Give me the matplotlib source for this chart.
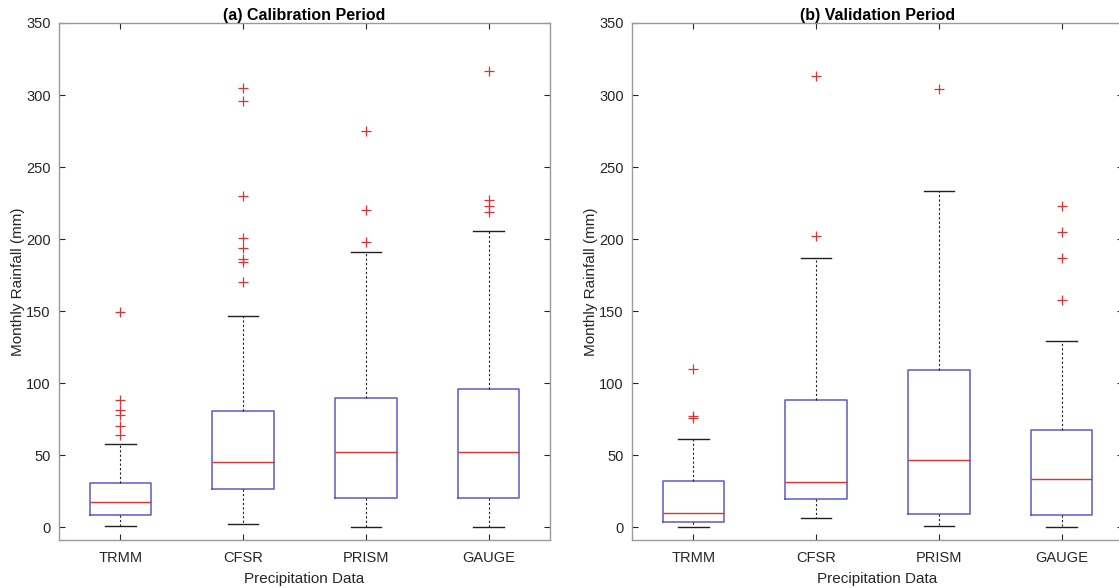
import numpy as np
import matplotlib
matplotlib.use('Agg')
from matplotlib import pyplot

## values (monthly rainfall, mm)
products = ['TRMM', 'CFSR', 'PRISM', 'GAUGE']

# (a) calibration period
cal_whislo = [0.7, 2.3, 0.0, 0.0]
cal_q1 = [8.1, 26.2, 20.2, 20.2]
cal_med = [17.4, 45.0, 52.4, 52.4]
cal_q3 = [30.7, 80.5, 89.8, 96.0]
cal_whishi = [57.4, 146.6, 191.0, 205.6]
cal_fliers = [[149, 88, 81, 78, 70, 64],
              [305, 296, 230, 201, 194, 186, 184, 170],
              [275, 220, 198],
              [317, 227, 223, 219]]

# (b) validation period
val_whislo = [0.2, 6.5, 0.7, 0.2]
val_q1 = [3.2, 19.7, 8.8, 8.4]
val_med = [10.0, 31.1, 46.6, 33.6]
val_q3 = [32.3, 88.2, 109.0, 67.7]
val_whishi = [60.8, 187.0, 233.0, 129.0]
val_fliers = [[110, 77, 76],
              [313, 202],
              [304],
              [223, 205, 187, 158]]

pyplot.rcParams['font.family'] = ['Liberation Sans', 'DejaVu Sans']
pyplot.rcParams['font.size'] = 10


def make_stats(whislo, q1, med, q3, whishi, fliers):
    stats = []
    for i in range(len(products)):
        stats.append({'whislo': whislo[i], 'q1': q1[i], 'med': med[i], 'q3': q3[i],
                      'whishi': whishi[i], 'fliers': np.array(fliers[i]), 'label': products[i]})
    return stats


def draw_panel(ax, stats, title):
    ax.bxp(stats, widths=0.5, capwidths=0.25, showfliers=True,
           boxprops=dict(color='#5a5ac8', linewidth=1.1),
           medianprops=dict(color='#e03030', linewidth=1.0),
           whiskerprops=dict(color='#202020', linestyle=(0, (2.0, 2.0)), linewidth=0.8),
           capprops=dict(color='#202020', linewidth=1.0),
           flierprops=dict(marker='+', markeredgecolor='#e03030', markersize=7, markeredgewidth=0.9))
    ax.set_xlim(0.5, 4.5)
    ax.set_ylim(-9, 350)
    ax.set_yticks(np.arange(0, 351, 50))
    ax.set_title(title, fontweight='bold', fontsize=11.5, pad=2.5)
    ax.set_xlabel('Precipitation Data', fontsize=11, color='#262626', labelpad=5)
    ax.set_ylabel('Monthly Rainfall (mm)', fontsize=11, color='#262626', labelpad=1)
    ax.tick_params(direction='in', top=True, right=True, length=4, color='#262626',
                   labelcolor='#262626', labelsize=10.5)
    ax.tick_params(axis='x', pad=8)
    ax.tick_params(axis='y', pad=6)
    for s in ax.spines.values():
        s.set_color('#9a9a9a')
        s.set_linewidth(1.0)


fig = pyplot.figure(figsize=(11.19, 5.88), dpi=100)
ax1 = fig.add_axes([59 / 1119, 48 / 588, 491 / 1119, 517 / 588])
ax2 = fig.add_axes([632 / 1119, 48 / 588, 491 / 1119, 517 / 588])

draw_panel(ax1, make_stats(cal_whislo, cal_q1, cal_med, cal_q3, cal_whishi, cal_fliers),
           '(a) Calibration Period')
draw_panel(ax2, make_stats(val_whislo, val_q1, val_med, val_q3, val_whishi, val_fliers),
           '(b) Validation Period')

fig.savefig('out.png', dpi=100, facecolor='white')
